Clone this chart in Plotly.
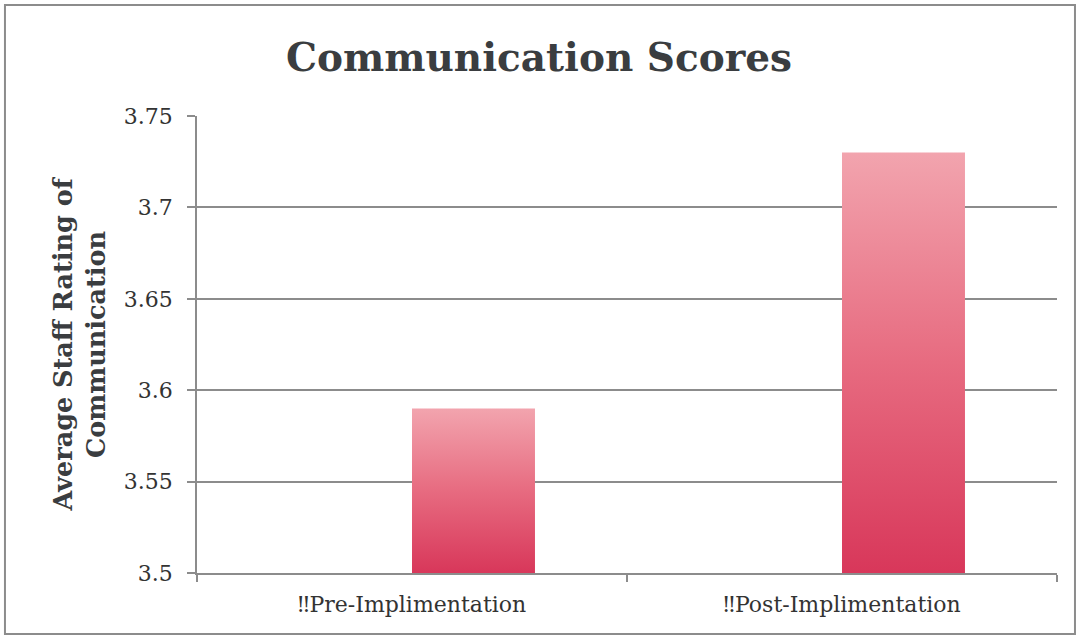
import plotly.graph_objects as go

categories = ["‼Pre-Implimentation", "‼Post-Implimentation"]
scores = [3.59, 3.73]
y_ticks = [3.5, 3.55, 3.6, 3.65, 3.7, 3.75]
y_tick_labels = ["3.5", "3.55", "3.6", "3.65", "3.7", "3.75"]

BASE = 3.5
BAR_W = 0.286   # bar sits in the right half of each category slot (Excel-style)
GRAD = [[0, "#D8375A"], [0.5, "#E76B80"], [1, "#F2A4AE"]]
FONT = "DejaVu Serif"

fig = go.Figure()
for i, (cat, val) in enumerate(zip(categories, scores)):
    x0, x1 = i, i + BAR_W
    fig.add_trace(go.Scatter(
        x=[x0, x1, x1, x0, x0], y=[BASE, BASE, val, val, BASE],
        mode="lines", line=dict(width=0), fill="toself",
        fillgradient=dict(type="vertical", colorscale=GRAD),
        name=cat, hoverinfo="skip", showlegend=False,
    ))

fig.update_layout(
    width=1078, height=637,
    paper_bgcolor="white", plot_bgcolor="white",
    margin=dict(l=197, r=21, t=116, b=64),
    title=dict(text="<b>Communication Scores</b>", x=0.5, xanchor="center",
               y=0.91, yanchor="middle",
               font=dict(family=FONT, size=39, color="#3A3D40")),
    font=dict(family=FONT, color="#333333"),
    showlegend=False,
)
fig.update_xaxes(
    range=[-0.5, 1.5], tickvals=[0, 1], ticktext=categories,
    ticks="", showgrid=False, zeroline=False,
    showline=True, linecolor="#8C8C8C", linewidth=1.5,
    tickfont=dict(size=22, color="#333333"), ticklabelstandoff=11,
    minor=dict(tickvals=[-0.5, 0.5, 1.5], ticks="outside", ticklen=7,
               tickcolor="#8C8C8C", tickwidth=1.5, showgrid=False),
)
fig.update_yaxes(
    range=[3.5, 3.75], tickvals=y_ticks, ticktext=y_tick_labels,
    ticks="outside", ticklen=8, tickcolor="#8C8C8C", tickwidth=1.5,
    showgrid=True, gridcolor="#8C8C8C", gridwidth=1.5,
    zeroline=False, showline=True, linecolor="#8C8C8C", linewidth=1.5,
    tickfont=dict(size=22, color="#333333"), ticklabelstandoff=10,
    title=dict(text="<b>Average Staff Rating of<br>Communication</b>",
               font=dict(size=25.5, color="#3A3D40"), standoff=11),
)
# outer chart border
fig.add_shape(type="rect", xref="paper", yref="paper",
              x0=-0.2233, x1=1.0209, y0=-0.1335, y1=1.2429,
              line=dict(color="#8C8C8C", width=2))

fig.write_html("out.html", config={"displayModeBar": False},
               post_script="document.body.style.margin='0';")
